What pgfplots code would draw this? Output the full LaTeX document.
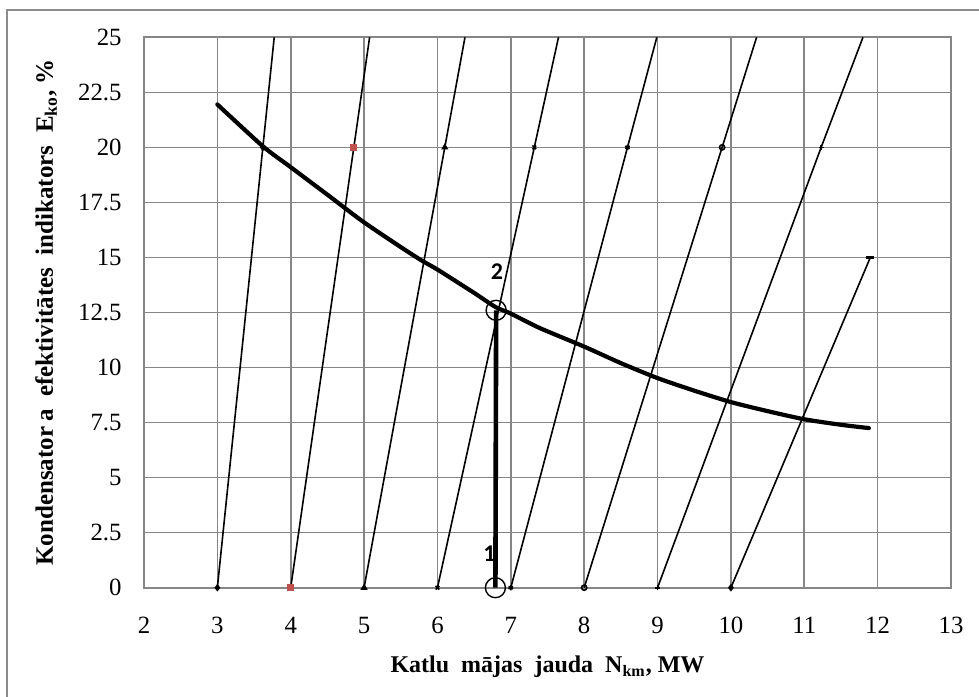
\documentclass[border=0pt]{standalone}
\usepackage{fontspec}
\setmainfont{Liberation Serif}
\newfontfamily\calibri{Carlito}
\usepackage{pgfplots}
\pgfplotsset{compat=1.18}
\definecolor{gridgray}{RGB}{134,134,134}
\definecolor{framegray}{RGB}{140,140,140}
\definecolor{excelred}{RGB}{192,80,77}
\begin{document}
\begin{tikzpicture}
\useasboundingbox (-72pt,-54.15pt) rectangle (417.5pt,293.85pt);
\begin{axis}[
  scale only axis, width=403.5pt, height=275.2pt,
  xmin=2, xmax=13, ymin=0, ymax=25,
  xtick={2,3,4,5,6,7,8,9,10,11,12,13},
  xticklabels={2,3,4,5,6,7,8,9,10,11,12,13},
  ytick={0,2.5,5,7.5,10,12.5,15,17.5,20,22.5,25},
  yticklabels={0,2.5,5,7.5,10,12.5,15,17.5,20,22.5,25},
  grid=major, major grid style={gridgray, line width=0.8pt},
  axis line style={gridgray, line width=0.8pt},
  major tick length=0pt,
  tick label style={font=\fontsize{12.4}{14}\selectfont},
  yticklabel style={inner sep=0pt, anchor=east, xshift=-11pt},
  xticklabel style={inner sep=0pt, anchor=north, yshift=-14.6pt},
  clip=false,
  xlabel={Katlu\ \ mājas\ \ jauda\ \ N\textsubscript{km}, MW},
  ylabel={Kondensator\hspace{0.2em}a\ \ efektivitātes\ \ indikators\ \ E\textsubscript{ko}, \%},
  xlabel style={at={(axis description cs:0.5,-0.1548)}, anchor=base, inner sep=0pt, font=\bfseries\fontsize{12}{14}\selectfont},
  ylabel style={at={(axis description cs:-0.11276,0.5)}, anchor=base, inner sep=0pt, font=\bfseries\fontsize{12.5}{14}\selectfont},
  every axis plot/.append style={line width=0.8pt, black},
  mark size=1.3pt,
]
% family of straight lines
\addplot[mark=diamond*, mark indices={1,2}] coordinates {(3,0) (3.62,20) (3.775,25)};
\addplot[mark=square*, mark options={draw=excelred, fill=excelred}, mark indices={1,2}] coordinates {(4,0) (4.86,20) (5.075,25)};
\addplot[mark=triangle*, mark indices={1,2}] coordinates {(5,0) (6.10,20) (6.375,25)};
\addplot[mark=x, mark indices={1,2}] coordinates {(6,0) (7.32,20) (7.65,25)};
\addplot[mark=asterisk, mark indices={1,2}] coordinates {(7,0) (8.59,20) (8.99,25)};
\addplot[mark=o, mark indices={1,2}] coordinates {(8,0) (9.88,20) (10.35,25)};
\addplot[mark=+, mark indices={1,2}] coordinates {(9,0) (11.23,20) (11.80,25)};
\addplot[mark=diamond*, mark indices={1}] coordinates {(10,0) (11.9,15)};
\addplot[only marks, mark=-, mark size=2pt, mark options={line width=1.2pt}] coordinates {(11.9,15)};
% efficiency curve
\addplot[line width=2.1pt, smooth, tension=0.4, line cap=round] coordinates {
(3,21.95) (3.62,20.05) (4,19.1) (4.5,17.85) (4.98,16.64) (5.5,15.47) (5.79,14.85)
(6,14.45) (6.5,13.39) (6.79,12.75) (7,12.45) (7.39,11.8) (8,10.95) (8.5,10.2)
(9,9.52) (9.5,8.95) (10,8.43) (10.5,8.02) (11,7.65) (11.5,7.4) (11.88,7.25)};
% label 1 (partly behind the vertical line)
\node[font=\calibri\bfseries\fontsize{12}{14}\selectfont, inner sep=0pt] at (axis cs:6.71,1.56) {1};
% vertical line 1-2
\addplot[line width=2.3pt] coordinates {(6.79,0) (6.80,12.6)};
% circles
\addplot[only marks, mark=o, mark size=5pt, mark options={line width=0.7pt, black}] coordinates {(6.79,0) (6.80,12.6)};
\node[font=\calibri\bfseries\fontsize{12}{14}\selectfont, inner sep=0pt] at (axis cs:6.81,14.36) {2};
\end{axis}
\draw[framegray, line width=1pt] (-68.5pt,-60pt) -- (-68.5pt,288.85pt) -- (430pt,288.85pt);
\end{tikzpicture}
\end{document}
